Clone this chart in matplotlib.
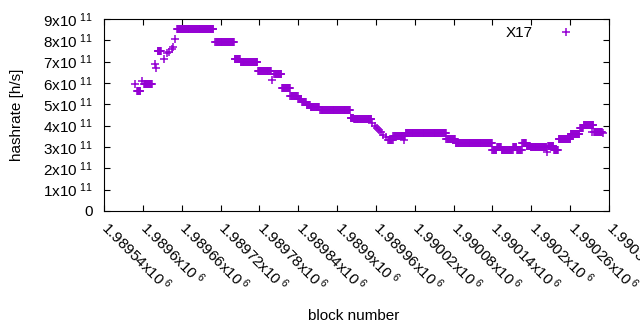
import numpy as np
import matplotlib.pyplot as plt
from matplotlib.transforms import ScaledTranslation

plt.rcParams['font.family'] = ['Liberation Sans', 'DejaVu Sans']
plt.rcParams['mathtext.fontset'] = 'custom'
plt.rcParams['mathtext.rm'] = 'Liberation Sans'
plt.rcParams['mathtext.it'] = 'Liberation Sans:italic'

# runs of constant hashrate: first block, last block, rate (x1e11 h/s)
run_first = [1989588, 1989591, 1989599, 1989602, 1989618, 1989620, 1989623, 1989632,
             1989638, 1989641, 1989645, 1989647, 1989650, 1989653, 1989712, 1989742,
             1989751, 1989778, 1989799, 1989803, 1989815, 1989828, 1989840, 1989846,
             1989853, 1989859, 1989874, 1989921, 1989926, 1989954, 1989959, 1989962,
             1989965, 1989968, 1989971, 1989976, 1989979, 1989987, 1990004, 1990006,
             1990069, 1990083, 1990140, 1990147, 1990154, 1990172, 1990178, 1990186,
             1990193, 1990199, 1990224, 1990226, 1990235, 1990242, 1990261, 1990275,
             1990281, 1990293, 1990297, 1990310]
run_last = [1989588, 1989596, 1989599, 1989614, 1989618, 1989620, 1989628, 1989632,
            1989638, 1989641, 1989645, 1989647, 1989650, 1989709, 1989741, 1989750,
            1989777, 1989798, 1989799, 1989814, 1989827, 1989839, 1989845, 1989852,
            1989858, 1989872, 1989920, 1989925, 1989953, 1989954, 1989959, 1989962,
            1989965, 1989968, 1989971, 1989976, 1989986, 1990005, 1990004, 1990068,
            1990082, 1990139, 1990146, 1990153, 1990171, 1990177, 1990185, 1990192,
            1990198, 1990223, 1990224, 1990234, 1990241, 1990260, 1990274, 1990280,
            1990296, 1990293, 1990309, 1990310]
run_rate = [5.95, 5.63, 6.09, 5.95, 6.88, 6.69, 7.50, 7.11,
            7.39, 7.45, 7.58, 7.70, 8.06, 8.52, 7.90, 7.12,
            7.00, 6.55, 6.13, 6.41, 5.75, 5.37, 5.25, 5.12,
            4.99, 4.89, 4.73, 4.37, 4.30, 4.11, 4.00, 3.90,
            3.80, 3.70, 3.56, 3.47, 3.33, 3.52, 3.33, 3.65,
            3.36, 3.21, 2.86, 3.00, 2.87, 3.00, 2.87, 3.17,
            3.05, 2.98, 2.77, 3.05, 2.87, 3.38, 3.61, 3.91,
            4.02, 3.72, 3.72, 3.64]

x_ticks = list(range(1989540, 1990321, 60))
y_ticks = [i * 1e11 for i in range(10)]

blocks = []
rates = []
for a, b, r in zip(run_first, run_last, run_rate):
    for blk in range(a, b + 1):
        blocks.append(blk)
        rates.append(r * 1e11)

fs = 11
fig = plt.figure(figsize=(6.4, 3.3), dpi=100)
ax = fig.add_axes([104 / 640, 1 - 211 / 330, 505 / 640, 192 / 330])

ax.plot(blocks, rates, '+', color='#9400D3', markersize=5.5, mew=1.1, label='X17')

ax.set_xlim(1989540, 1990320)
ax.set_ylim(0, 9e11)
ax.set_xticks(x_ticks)
ax.set_xticklabels([f"{t / 1e6:g}x10$^{{\\ 6}}$" for t in x_ticks],
                   rotation=-45, ha='left', va='center', rotation_mode='anchor')
ax.set_yticks(y_ticks)
ax.set_yticklabels(['0'] + [f"{i}x10$^{{\\ 11}}$" for i in range(1, 10)])
ax.tick_params(direction='in', length=4, width=0.8, top=True, right=True,
               labelsize=fs)
ax.tick_params(axis='x', pad=9.5)
ax.tick_params(axis='y', pad=8)
shift = ScaledTranslation(1 / 100, 0, fig.dpi_scale_trans)
for lab in ax.get_xticklabels():
    lab.set_transform(lab.get_transform() + shift)

ax.set_ylabel('hashrate [h/s]', fontsize=fs)
ax.set_xlabel('block number', fontsize=fs)
ax.yaxis.set_label_coords(-0.158, 0.5)
ax.xaxis.set_label_coords(0.495, -0.51)

ax.legend(loc='upper right', markerfirst=False, frameon=False, fontsize=fs,
          handlelength=2.0, handletextpad=1.2, borderaxespad=0.0,
          bbox_to_anchor=(0.958, 0.993))

fig.savefig('out.png', dpi=100)
